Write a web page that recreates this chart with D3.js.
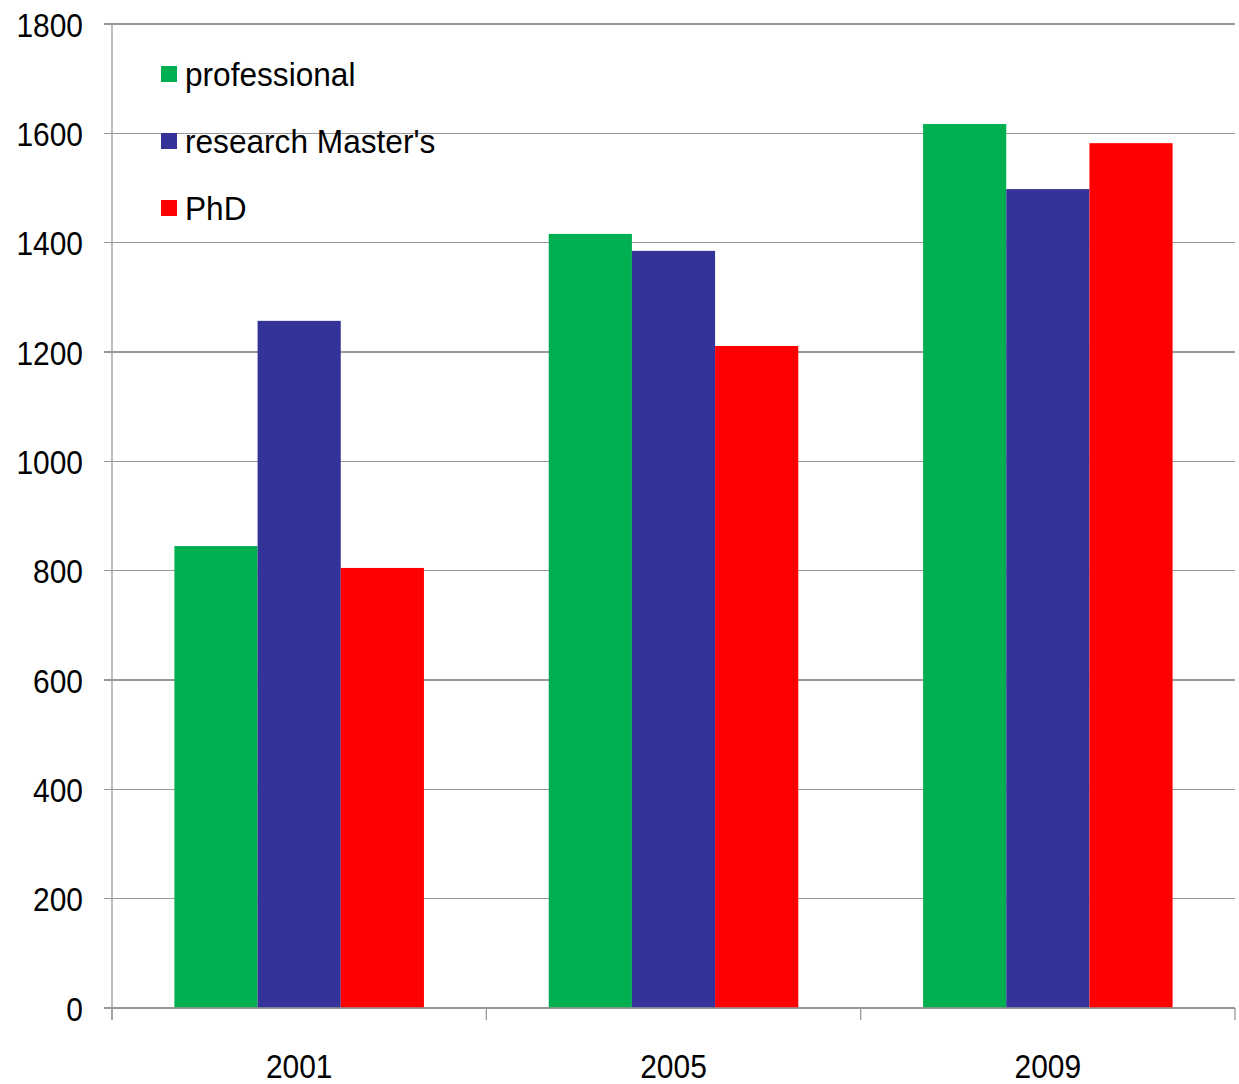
<!DOCTYPE html>
<html>
<head>
<meta charset="utf-8">
<script src="https://cdn.jsdelivr.net/npm/d3@7"></script>
<style>
  body { margin: 0; background: #fff; }
  svg text { font-family: "Liberation Sans Narrow", "Liberation Sans", Arial, sans-serif; fill: #000; }
</style>
</head>
<body>
<svg id="chart" width="1239" height="1084"></svg>
<script>
// data
var years = ["2001", "2005", "2009"];
var seriesNames = ["professional", "research Master's", "PhD"];
var professional = [845, 1416, 1617];
var researchMasters = [1257, 1385, 1498];
var phd = [805, 1211, 1582];
var yTicks = [0, 200, 400, 600, 800, 1000, 1200, 1400, 1600, 1800];

var colors = ["#00b050", "#333399", "#ff0000"];
var values = [professional, researchMasters, phd];

var svg = d3.select("#chart"),
    margin = {top: 24, right: 4, bottom: 76, left: 112},
    width = +svg.attr("width"),
    height = +svg.attr("height");

// text looks squeezed sideways in the original
var squeeze = 0.88, legendSqueeze = 0.93, fontSize = 34;

var x = d3.scaleBand()
    .domain(years)
    .range([margin.left, width - margin.right])
    .paddingInner(0)
    .paddingOuter(0);

var x1 = d3.scaleBand()
    .domain(d3.range(seriesNames.length))
    .range([x.bandwidth() / 6, x.bandwidth() * 5 / 6]);

var y = d3.scaleLinear()
    .domain([0, 1800])
    .range([height - margin.bottom, margin.top]);

// gridlines
svg.append("g")
    .selectAll("line")
    .data(yTicks)
    .join("line")
    .attr("x1", margin.left - 8)
    .attr("x2", width - margin.right)
    .attr("y1", d => y(d))
    .attr("y2", d => y(d))
    .attr("stroke", "#999")
    .attr("stroke-width", 1.3)
    .style("shape-rendering", "crispEdges");

// bars
var rows = years.map((yr, i) => ({year: yr, vals: values.map(v => v[i])}));

svg.append("g")
    .selectAll("g")
    .data(rows)
    .join("g")
    .attr("transform", d => "translate(" + x(d.year) + ",0)")
    .selectAll("rect")
    .data(d => d.vals)
    .join("rect")
    .attr("x", (d, i) => x1(i))
    .attr("width", x1.bandwidth())
    .attr("y", d => y(d))
    .attr("height", d => y(0) - y(d))
    .attr("fill", (d, i) => colors[i]);

// y axis
var yAxis = d3.axisLeft(y).tickValues(yTicks).tickSize(0).tickPadding(0).tickFormat(d3.format("d"));
var gy = svg.append("g")
    .attr("transform", "translate(" + margin.left + ",0)")
    .call(yAxis);
gy.select(".domain").remove();
gy.append("line")
    .attr("y1", margin.top)
    .attr("y2", y(0) + 12)
    .attr("stroke", "#999")
    .attr("stroke-width", 1.3);
gy.selectAll(".tick text")
    .attr("x", 0)
    .attr("dy", "0.36em")
    .attr("font-size", fontSize)
    .attr("transform", "translate(-29,0) scale(" + squeeze + ",1)");

// x axis
var gx = svg.append("g")
    .attr("transform", "translate(0," + y(0) + ")");
gx.append("line")
    .attr("x1", margin.left)
    .attr("x2", width - margin.right)
    .attr("stroke", "#999")
    .attr("stroke-width", 1.3);
gx.selectAll(".sep")
    .data(years.concat(["end"]))
    .join("line")
    .attr("class", "sep")
    .attr("x1", (d, i) => margin.left + i * x.bandwidth())
    .attr("x2", (d, i) => margin.left + i * x.bandwidth())
    .attr("y1", 0)
    .attr("y2", 12)
    .attr("stroke", "#999")
    .attr("stroke-width", 1.3);
gx.selectAll(".lbl")
    .data(years)
    .join("text")
    .attr("class", "lbl")
    .attr("text-anchor", "middle")
    .attr("font-size", fontSize)
    .attr("transform", d => "translate(" + (x(d) + x.bandwidth() / 2) + ",70) scale(" + squeeze + ",1)")
    .text(d => d);

// legend
var legend = svg.append("g")
    .attr("transform", "translate(161,66)");
var item = legend.selectAll("g")
    .data(seriesNames)
    .join("g")
    .attr("transform", (d, i) => "translate(0," + i * 67 + ")");
item.append("rect")
    .attr("width", 16)
    .attr("height", 16)
    .attr("fill", (d, i) => colors[i]);
item.append("text")
    .attr("dy", "0.36em")
    .attr("font-size", fontSize)
    .attr("transform", "translate(24,8) scale(" + legendSqueeze + ",1)")
    .text(d => d);
</script>
</body>
</html>
